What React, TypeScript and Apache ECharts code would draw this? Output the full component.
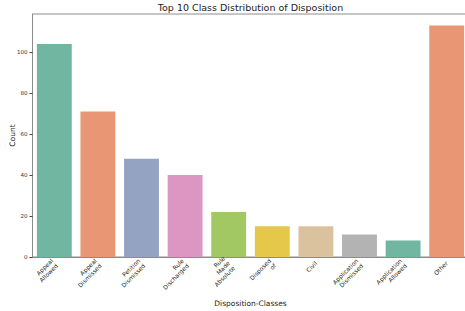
import React, { useEffect, useRef } from "react";
import * as echarts from "echarts";

const categories = [
  "Appeal\nAllowed",
  "Appeal\nDismissed",
  "Petition\nDismissed",
  "Rule\nDischarged",
  "Rule\nMade\nAbsolute",
  "Disposed\nof",
  "Civil",
  "Application\nDismissed",
  "Application\nAllowed",
  "Other",
];
const counts = [104, 71, 48, 40, 22, 15, 15, 11, 8, 113];
const barColors = [
  "#71b6a0", "#e99675", "#95a3c3", "#db96c1", "#a2c864",
  "#e5c849", "#dbc29e", "#b3b3b3", "#71b6a0", "#e99675",
];
const yTicks = [0, 20, 40, 60, 80, 100];

export default function App() {
  const ref = useRef<HTMLDivElement>(null);
  useEffect(() => {
    const chart = echarts.init(ref.current!, undefined, { renderer: "svg" });
    const font = "DejaVu Sans";
    chart.setOption({
      animation: false,
      title: {
        text: "Top 10 Class Distribution of Disposition",
        left: 250.5,
        textAlign: "center",
        top: 2,
        padding: 0,
        textStyle: { fontFamily: font, fontSize: 9.5, fontWeight: "normal", color: "#222" },
      },
      grid: {
        left: 32.5,
        right: -3.5,
        top: 14,
        bottom: 54,
        show: true,
        borderColor: "#8c8c8c",
        borderWidth: 1,
        containLabel: false,
        outerBoundsMode: "none",
      },
      xAxis: {
        type: "category",
        data: categories,
        name: "Disposition-Classes",
        nameLocation: "middle",
        nameGap: 42,
        nameMoveOverlap: false,
        nameTextStyle: { fontFamily: font, fontSize: 7.5, color: "#222" },
        axisLine: { lineStyle: { color: "#8c8c8c", width: 1 } },
        axisTick: { alignWithLabel: true, length: 3, lineStyle: { color: "#444" } },
        axisLabel: {
          rotate: 45,
          interval: 0,
          fontFamily: font,
          fontSize: 6,
          lineHeight: 7,
          color: "#222",
          margin: 5,
          align: "right",
          verticalAlign: "middle",
        },
      },
      yAxis: {
        type: "value",
        min: 0,
        max: 118.65,
        interval: 20,
        name: "Count",
        nameLocation: "middle",
        nameGap: 16,
        nameMoveOverlap: false,
        nameTextStyle: { fontFamily: font, fontSize: 7.5, color: "#222" },
        splitLine: { show: false },
        axisLine: { show: true, lineStyle: { color: "#8c8c8c", width: 1 } },
        axisTick: { show: true, length: 3, lineStyle: { color: "#444" } },
        axisLabel: {
          fontFamily: font,
          fontSize: 5.5,
          color: "#333",
          margin: 5,
          showMaxLabel: false,
          formatter: (v: number) => (yTicks.includes(v) ? String(v) : ""),
        },
      },
      series: [
        {
          type: "bar",
          data: counts.map((v, i) => ({ value: v, itemStyle: { color: barColors[i] } })),
          barCategoryGap: "20%",
        },
      ],
    });
    return () => chart.dispose();
  }, []);
  return <div ref={ref} style={{ width: 465, height: 311, position: "absolute", left: 0, top: 0 }} />;
}
